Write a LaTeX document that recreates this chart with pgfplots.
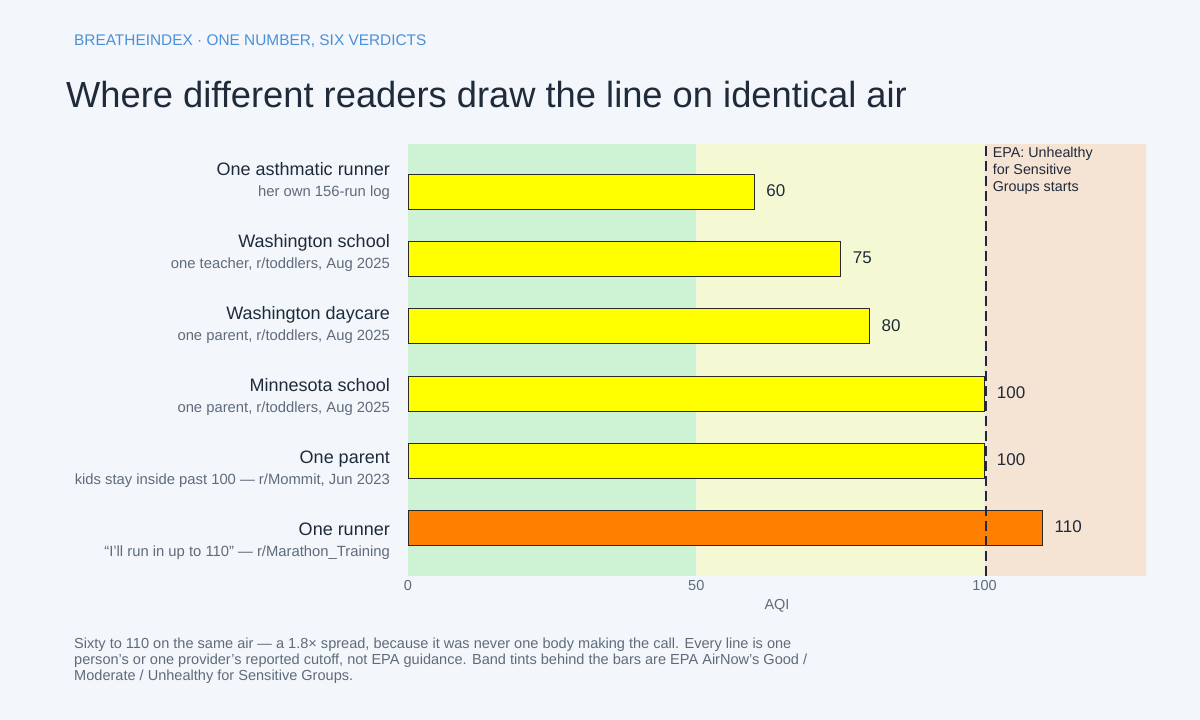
\documentclass[border=0pt]{standalone}
\usepackage{pgfplots}
\pgfplotsset{compat=1.18}
\usepackage{fontspec}
\setmainfont{Liberation Sans}
\definecolor{bg}{HTML}{F3F7FB}
\definecolor{ink}{HTML}{1F2A3A}
\definecolor{edge}{HTML}{2A2A2A}
\definecolor{subc}{HTML}{5F6B7A}
\definecolor{accent}{HTML}{4A90D9}
\definecolor{bgood}{HTML}{CDF3D4}
\definecolor{bmod}{HTML}{F5F9D3}
\definecolor{busg}{HTML}{F5E3D3}
\definecolor{baryel}{HTML}{FFFF00}
\definecolor{barorg}{HTML}{FF7F00}
\newcommand{\fs}[2]{\fontsize{#1}{#2}\selectfont}
\begin{document}
\begin{tikzpicture}[x=1pt,y=1pt]
\fill[bg] (0,0) rectangle (1200,720);
\useasboundingbox (0,0) rectangle (1200,720);
\node[anchor=base west, inner sep=0, text=accent, font=\fs{15.4}{18}] at (74,674) {BREATHEINDEX · ONE NUMBER, SIX VERDICTS};
\node[anchor=base west, inner sep=0, text=ink, font=\fs{36.3}{42}] at (66,612) {Where different readers draw the line on identical air};
% left labels
\foreach \m/\s/\i in {One asthmatic runner/her own 156-run log/0,
  Washington school/{one teacher, r/toddlers, Aug 2025}/1,
  Washington daycare/{one parent, r/toddlers, Aug 2025}/2,
  Minnesota school/{one parent, r/toddlers, Aug 2025}/3,
  One parent/{kids stay inside past 100 — r/Mommit, Jun 2023}/4,
  One runner/{“I’ll run in up to 110” — r/Marathon\_Training}/5}{
  \node[anchor=base east, inner sep=0, text=ink, font=\fs{18}{20}] at (390,{544-72*\i}) {\m};
  \node[anchor=base east, inner sep=0, text=subc, font=\fs{14.8}{17}] at (390,{523-72*\i}) {\s};
}
\begin{axis}[
  at={(408pt,144pt)}, anchor=south west, scale only axis,
  width=738pt, height=432pt,
  xmin=0, xmax=128, ymin=-0.714, ymax=5.714,
  axis line style={draw=none}, tick style={draw=none},
  major tick length=0pt,
  ytick=\empty, xtick={0,50,100},
  /pgf/number format/assume math mode=true,
  xticklabel style={text=subc, font=\fs{14.5}{16}, inner sep=0pt, yshift=-4pt},
  xlabel={AQI},
  xlabel style={text=subc, font=\fs{14.5}{16}, at={(axis description cs:0.5,0)}, anchor=center, yshift=-30pt},
  clip=false,
]
\addplot[draw=none, fill=bgood, forget plot] coordinates {(0,-0.714) (0,5.714) (50,5.714) (50,-0.714) (0,-0.714)};
\addplot[draw=none, fill=bmod, forget plot] coordinates {(50,-0.714) (50,5.714) (100,5.714) (100,-0.714) (50,-0.714)};
\addplot[draw=none, fill=busg, forget plot] coordinates {(100,-0.714) (100,5.714) (128,5.714) (128,-0.714) (100,-0.714)};
\addplot[xbar, bar shift=0pt, bar width=35pt, fill=baryel, draw=edge, line width=0.8pt,
  nodes near coords, nodes near coords style={anchor=west, inner sep=0pt, xshift=12pt, yshift=1pt, text=ink, font=\fs{17}{20}}]
  coordinates {(60,5) (75,4) (80,3) (100,2) (100,1)};
\addplot[xbar, bar shift=0pt, bar width=35pt, fill=barorg, draw=edge, line width=0.8pt,
  nodes near coords, nodes near coords style={anchor=west, inner sep=0pt, xshift=12pt, yshift=1pt, text=ink, font=\fs{17}{20}}]
  coordinates {(110,0)};
\addplot[ink, line width=2pt, dash pattern=on 10pt off 5pt] coordinates {(100.2,-0.714) (100.2,5.714)};
\node[anchor=north west, align=left, inner sep=0pt, text=ink, font=\fs{14.3}{17}] at (axis cs:101.4,5.67) {EPA: Unhealthy\\for Sensitive\\Groups starts};
\end{axis}
\node[anchor=base west, inner sep=0, text=subc, font=\fs{14.55}{16}] at (74,71) {Sixty to 110 on the same air — a 1.8× spread, because it was never one body making the call. Every line is one};
\node[anchor=base west, inner sep=0, text=subc, font=\fs{14.55}{16}] at (74,55) {person’s or one provider’s reported cutoff, not EPA guidance. Band tints behind the bars are EPA AirNow’s Good /};
\node[anchor=base west, inner sep=0, text=subc, font=\fs{14.55}{16}] at (74,39) {Moderate / Unhealthy for Sensitive Groups.};
\end{tikzpicture}
\end{document}
